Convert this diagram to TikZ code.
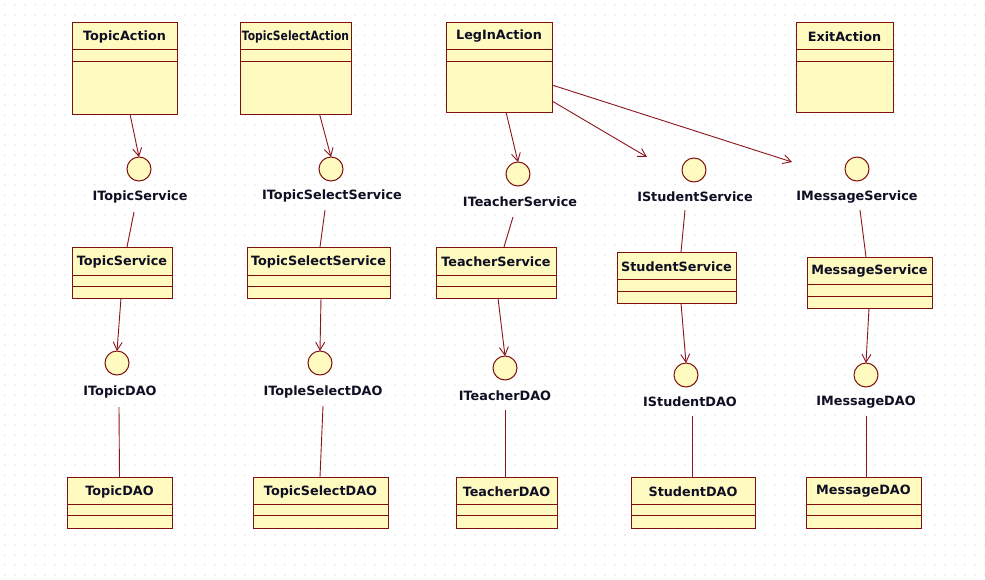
\documentclass[tikz,border=0pt]{standalone}
\usepackage{fontspec}
\setmainfont{DejaVu Sans}
\usetikzlibrary{arrows.meta,calc}
\definecolor{boxfill}{RGB}{255,250,192}
\definecolor{boxline}{RGB}{128,16,16}
\definecolor{conline}{RGB}{140,20,30}
\definecolor{txt}{RGB}{15,15,35}
\definecolor{griddot}{RGB}{195,195,195}
\tikzset{
 classbox/.style={draw=boxline, fill=boxfill, line width=1pt, inner sep=0pt, outer sep=0pt, rectangle},
 classname/.style={font=\bfseries\fontsize{12.8}{14}\selectfont, text=txt, inner sep=0pt},
 iface/.style={circle, draw=boxline, fill=boxfill, line width=1pt, minimum size=24pt, inner sep=0pt, outer sep=0pt},
 ilabel/.style={font=\bfseries\fontsize{12.8}{14}\selectfont, text=txt, inner sep=0pt},
 dep/.style={draw=conline, line width=0.9pt, -{Straight Barb[length=8pt,width=9pt]}},
 link/.style={draw=conline, line width=0.9pt},
 compline/.style={draw=boxline, line width=1pt},
}
% #1 node name, #2 text, #3 x, #4 top, #5 width, #6 height, #7 header height, #8 middle compartment
\newcommand{\umlclass}[8]{%
  \node[classbox, minimum width=#5pt, minimum height=#6pt, anchor=north west] (#1) at (#3,#4) {};
  \node[classname] (#1-name) at ($(#1.north)+(0,#7/2+1)$) {#2};
  \draw[compline] (#1.north west) ++(0,#7) -- ++(#5,0);
  \draw[compline] (#1.north west) ++(0,#7+#8) -- ++(#5,0);
}
\begin{document}
\begin{tikzpicture}[x=1pt,y=-1pt]
\useasboundingbox (0,0) rectangle (985,579);
\fill[white] (0,0) rectangle (985,579);
\foreach \x in {5,15,...,985} {
  \foreach \y in {5,15,...,575} {
    \fill[griddot] (\x,\y) circle (0.65pt);
  }
}

% Actions
\umlclass{TopicAction}{TopicAction}{72}{22}{105}{92}{27}{12}
\umlclass{TopicSelectAction}{\scalebox{0.84}[1]{TopicSelectAction}}{240}{22}{111}{92}{27}{12}
\umlclass{LegInAction}{LegInAction}{446}{22}{106}{90}{27}{12}
\umlclass{ExitAction}{ExitAction}{796}{22}{97}{90}{27}{12}

% Services
\umlclass{TopicService}{TopicService}{72}{247}{100}{51}{28}{11}
\umlclass{TopicSelectService}{TopicSelectService}{247}{247}{143}{51}{28}{11}
\umlclass{TeacherService}{TeacherService}{436}{247}{120}{51}{28}{11}
\umlclass{StudentService}{StudentService}{617}{252}{119}{51}{27}{12}
\umlclass{MessageService}{MessageService}{807}{257}{125}{51}{27}{12}

% DAOs
\umlclass{TopicDAO}{TopicDAO}{67}{477}{105}{51}{27}{11}
\umlclass{TopicSelectDAO}{TopicSelectDAO}{253}{477}{135}{51}{27}{11}
\umlclass{TeacherDAO}{TeacherDAO}{456}{477}{101}{51}{27}{11}
\umlclass{StudentDAO}{StudentDAO}{631}{477}{124}{51}{27}{11}
\umlclass{MessageDAO}{MessageDAO}{806}{477}{115}{51}{27}{11}

% Service interfaces
\node[iface] (ITopicService) at (139,169) {};
\node[ilabel] (lITopicService) at (140,197) {ITopicService};
\node[iface] (ITopicSelectService) at (331,169) {};
\node[ilabel] (lITopicSelectService) at (332,196) {ITopicSelectService};
\node[iface] (ITeacherService) at (518,174) {};
\node[ilabel] (lITeacherService) at (520,202) {ITeacherService};
\node[iface] (IStudentService) at (694,170) {};
\node[ilabel] (lIStudentService) at (695,197) {IStudentService};
\node[iface] (IMessageService) at (857,169) {};
\node[ilabel] (lIMessageService) at (857,197) {IMessageService};

% DAO interfaces
\node[iface] (ITopicDAO) at (117,363) {};
\node[ilabel] (lITopicDAO) at (120,392) {ITopicDAO};
\node[iface] (ITopleSelectDAO) at (320,363) {};
\node[ilabel] (lITopleSelectDAO) at (323,392) {ITopleSelectDAO};
\node[iface] (ITeacherDAO) at (505,368) {};
\node[ilabel] (lITeacherDAO) at (505,396) {ITeacherDAO};
\node[iface] (IStudentDAO) at (686,375) {};
\node[ilabel] (lIStudentDAO) at (690,402) {IStudentDAO};
\node[iface] (IMessageDAO) at (866,375) {};
\node[ilabel] (lIMessageDAO) at (866,402) {IMessageDAO};

% free ends
\coordinate (cS) at (647,157);
\coordinate (cM) at (792,162);

% Action dependencies
\draw[dep] ([shift={(5.5,0)}]TopicAction.south) -- (ITopicService.north);
\draw[dep] ([shift={(24,0)}]TopicSelectAction.south) -- (ITopicSelectService.north);
\draw[dep] ([shift={(7,0)}]LegInAction.south) -- (ITeacherService.north);
\draw[dep] ([shift={(0,34)}]LegInAction.east) -- (cS);
\draw[dep] ([shift={(0,18)}]LegInAction.east) -- (cM);

% Interface -> service realisations
\draw[link] ([shift={(-6,15)}]lITopicService.center) -- ([shift={(5,0)}]TopicService.north);
\draw[link] ([shift={(-7,14)}]lITopicSelectService.center) -- ([shift={(1.5,0)}]TopicSelectService.north);
\draw[link] ([shift={(-7,15)}]lITeacherService.center) -- ([shift={(8,0)}]TeacherService.north);
\draw[link] ([shift={(-10,13)}]lIStudentService.center) -- ([shift={(4.5,0)}]StudentService.north);
\draw[link] ([shift={(3,13)}]lIMessageService.center) -- ([shift={(-3.5,0)}]MessageService.north);

% Service -> DAO interface dependencies
\draw[dep] ([shift={(-1,0)}]TopicService.south) -- (ITopicDAO.north);
\draw[dep] ([shift={(2.5,0)}]TopicSelectService.south) -- (ITopleSelectDAO.north);
\draw[dep] ([shift={(2,0)}]TeacherService.south) -- (ITeacherDAO.north);
\draw[dep] ([shift={(4.5,0)}]StudentService.south) -- (IStudentDAO.north);
\draw[dep] ([shift={(-0.5,0)}]MessageService.south) -- (IMessageDAO.north);

% DAO interface -> DAO realisations
\draw[link] ([shift={(-1,15)}]lITopicDAO.center) -- (TopicDAO.north);
\draw[link] ([shift={(0,14)}]lITopleSelectDAO.center) -- ([shift={(-0.5,0)}]TopicSelectDAO.north);
\draw[link] ([shift={(0,14)}]lITeacherDAO.center) -- ([shift={(-1.5,0)}]TeacherDAO.north);
\draw[link] ([shift={(2,14)}]lIStudentDAO.center) -- ([shift={(-1,0)}]StudentDAO.north);
\draw[link] ([shift={(0,14)}]lIMessageDAO.center) -- ([shift={(2.5,0)}]MessageDAO.north);
\end{tikzpicture}
\end{document}
